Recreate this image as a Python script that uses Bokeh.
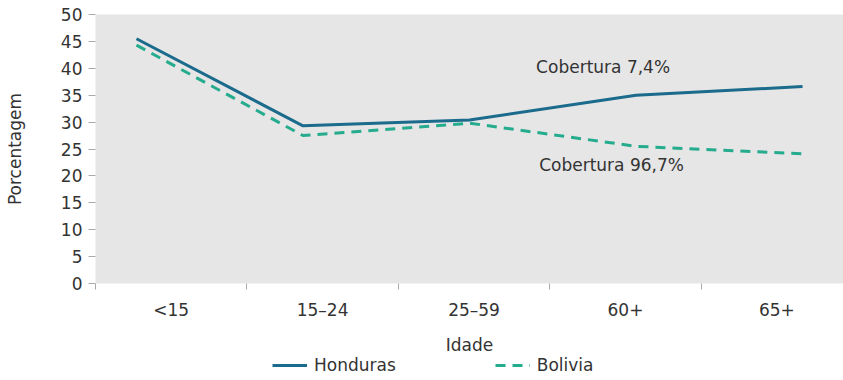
from bokeh.plotting import figure
from bokeh.layouts import column
from bokeh.models import Range1d, FixedTicker, Legend, LegendItem, Label
from bokeh.embed import file_html
from bokeh.resources import INLINE

# Age bands and share (%) per country
categories = ["<15", "15\u201324", "25\u201359", "60+", "65+"]
honduras = [45.5, 29.3, 30.4, 35.0, 36.6]
bolivia = [44.3, 27.5, 29.8, 25.5, 24.1]
y_ticks = [0, 5, 10, 15, 20, 25, 30, 35, 40, 45, 50]
coverage_notes = [("Cobertura 7,4%", 2.91, 40.2), ("Cobertura 96,7%", 2.93, 22.0)]

FONT = "DejaVu Sans"
TEXT = "#333333"
C_HON = "#1b6b8c"
C_BOL = "#25ab8e"
BG = "#e6e6e6"
DASH = "10 7"

p = figure(width=843, height=357, output_backend="svg", toolbar_location=None,
           x_range=Range1d(0, 4.94), y_range=Range1d(0, 50),
           min_border_left=95, min_border_right=0, min_border_top=14,
           min_border_bottom=72)
p.background_fill_color = BG
p.border_fill_color = "white"
p.outline_line_color = None
p.grid.visible = False

# series are placed by band index on their own scale, spread across the frame
p.extra_x_ranges = {"pts": Range1d(-0.246, 4.246)}
band_idx = list(range(len(categories)))

# x axis: labels at band centres, tick marks at band boundaries
xa = p.xaxis[0]
centers = [i + 0.5 for i in band_idx]
xa.ticker = FixedTicker(ticks=centers, minor_ticks=list(range(len(categories) + 1)))
xa.major_label_overrides = {c: lab for c, lab in zip(centers, categories)}
xa.major_tick_line_color = None
xa.major_tick_out = 0
xa.major_tick_in = 0
xa.minor_tick_line_color = "#aaaaaa"
xa.minor_tick_out = 6
xa.minor_tick_in = 0
xa.axis_line_color = None
xa.major_label_standoff = 10
xa.axis_label = "Idade"
xa.axis_label_standoff = 12

ya = p.yaxis[0]
ya.ticker = FixedTicker(ticks=y_ticks)
ya.minor_tick_line_color = None
ya.major_tick_line_color = "#aaaaaa"
ya.major_tick_out = 7
ya.major_tick_in = 0
ya.axis_line_color = None
ya.major_label_standoff = 6
ya.axis_label = "Porcentagem"
ya.axis_label_standoff = 33

for ax in (xa, ya):
    ax.major_label_text_font = FONT
    ax.major_label_text_font_size = "17px"
    ax.major_label_text_color = TEXT
    ax.axis_label_text_font = FONT
    ax.axis_label_text_font_size = "17px"
    ax.axis_label_text_font_style = "normal"
    ax.axis_label_text_color = TEXT

p.line(band_idx, honduras, x_range_name="pts", line_color=C_HON, line_width=3)
p.line(band_idx, bolivia, x_range_name="pts", line_color=C_BOL, line_width=3,
       line_dash=DASH)

for txt, xx, yy in coverage_notes:
    p.add_layout(Label(x=xx, y=yy, text=txt, text_font=FONT, text_font_size="17px",
                       text_color=TEXT, text_align="left", text_baseline="middle"))

# legend strip underneath the chart; its frame lines up with the chart frame
key = figure(width=843, height=23, output_backend="svg", toolbar_location=None,
             x_range=Range1d(0, 1), y_range=Range1d(0, 1),
             x_axis_location=None, y_axis_location=None,
             min_border_left=95, min_border_right=0, min_border_top=0,
             min_border_bottom=0)
key.outline_line_color = None
key.background_fill_color = "white"
key.border_fill_color = "white"
key.xgrid.grid_line_color = None
key.ygrid.grid_line_color = None
key.grid.visible = False
# same series, lying outside this strip's range, so only their legend samples show
k_hon = key.line(band_idx, honduras, line_color=C_HON, line_width=3)
k_bol = key.line(band_idx, bolivia, line_color=C_BOL, line_width=3, line_dash=DASH)
legend = Legend(items=[LegendItem(label="Honduras", renderers=[k_hon]),
                       LegendItem(label="Bolivia", renderers=[k_bol])],
                orientation="horizontal", location=(177, 5),
                label_text_font=FONT, label_text_font_size="17px",
                label_text_color=TEXT, glyph_width=35, glyph_height=14,
                label_height=18, label_standoff=7, spacing=99, padding=0, margin=0,
                border_line_color=None, background_fill_alpha=0)
key.add_layout(legend)

layout = column(p, key, spacing=0)
open("out.html", "w").write(file_html(layout, INLINE))
